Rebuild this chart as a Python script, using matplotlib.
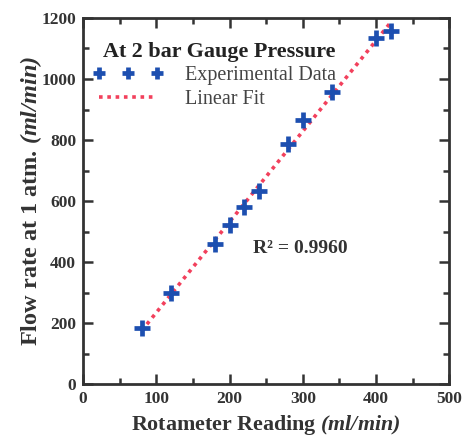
import numpy as np
import matplotlib
matplotlib.use("Agg")
import matplotlib.pyplot as plt
from matplotlib.ticker import MultipleLocator

# Rotameter reading vs measured flow rate at 1 atm (2 bar gauge)
rotameter = [80, 120, 180, 200, 220, 240, 280, 300, 340, 400, 420]
flow_rate = [183, 297, 459, 521, 579, 633, 787, 864, 958, 1133, 1158]
r_squared = "0.9960"

plt.rcParams["font.family"] = "Liberation Serif"
plt.rcParams["mathtext.fontset"] = "custom"
plt.rcParams["mathtext.rm"] = "Liberation Serif:italic:bold"
plt.rcParams["mathtext.it"] = "Liberation Serif:italic:bold"

fig = plt.figure(figsize=(4.67, 4.38), dpi=100)
ax = fig.add_axes([0.178, 0.123, 0.784, 0.836])

blue = "#1d4fb0"
red = "#f2405c"
frame = "#333333"

x = np.array(rotameter, dtype=float)
y = np.array(flow_rate, dtype=float)
slope, intercept = np.polyfit(x, y, 1)
xf = np.linspace(x.min(), x.max(), 100)

ax.plot(xf, slope * xf + intercept, linestyle=(0, (1, 1.3)), color=red,
        linewidth=2.6, label="Linear Fit", zorder=2)
ax.plot(x, y, linestyle="none", marker="+", markersize=11, markeredgewidth=3.4,
        color=blue, label="Experimental Data", zorder=3)

ax.set_xlim(0, 500)
ax.set_ylim(0, 1200)
ax.xaxis.set_major_locator(MultipleLocator(100))
ax.xaxis.set_minor_locator(MultipleLocator(50))
ax.yaxis.set_major_locator(MultipleLocator(200))
ax.yaxis.set_minor_locator(MultipleLocator(100))
ax.tick_params(which="both", direction="in", top=True, right=True,
               color=frame, width=1.8)
ax.tick_params(which="major", length=7, labelsize=12.5, pad=5, labelcolor=frame)
ax.tick_params(which="minor", length=4)
for lbl in ax.get_xticklabels() + ax.get_yticklabels():
    lbl.set_fontweight("bold")
for s in ax.spines.values():
    s.set_linewidth(2)
    s.set_color(frame)

ax.set_xlabel("Rotameter Reading $(ml/min)$", fontsize=15.8, fontweight="bold",
              color=frame, labelpad=4)
ax.set_ylabel("Flow rate at 1 atm. $(ml/min)$", fontsize=17.5, fontweight="bold",
              color=frame, labelpad=-1.5)

# heading above the legend entries
ax.text(0.055, 0.907, "At 2 bar Gauge Pressure", transform=ax.transAxes,
        fontsize=15.9, fontweight="bold", color="#222222",
        ha="left", va="center")

handles, labels = ax.get_legend_handles_labels()
leg = ax.legend(handles[::-1], labels[::-1], loc="upper left",
                bbox_to_anchor=(0.027, 0.868), frameon=False, numpoints=3,
                markerscale=0.8, borderpad=0, borderaxespad=0,
                handlelength=3.5, handletextpad=1.05, labelspacing=0.22,
                fontsize=14.5)
for t in leg.get_texts():
    t.set_color("#444444")

ax.text(297, 446, f"R² = {r_squared}", fontsize=14, fontweight="bold",
        color=frame, ha="center", va="center")

fig.savefig("out.png", dpi=100)
